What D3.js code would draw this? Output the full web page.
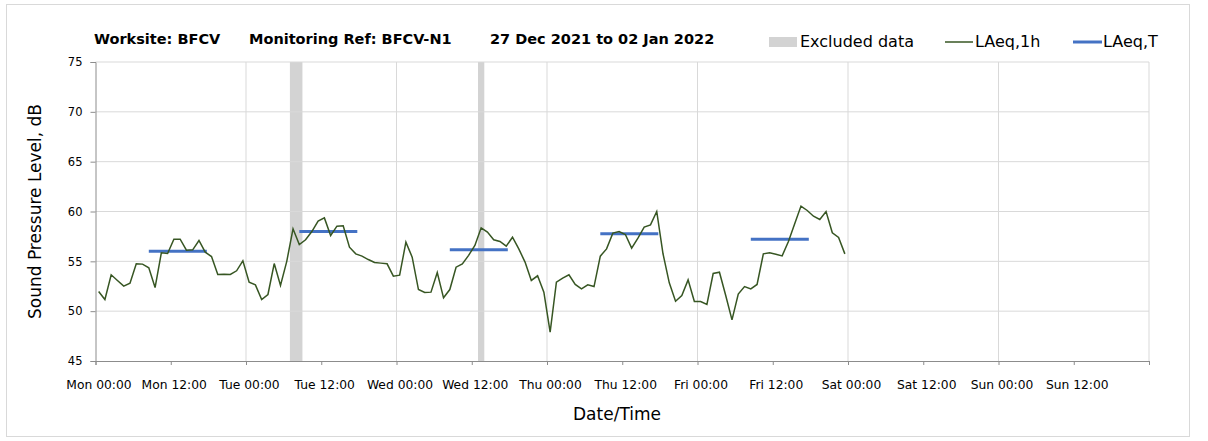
<!DOCTYPE html>
<meta charset="utf-8">
<style>
    body {
        margin: 0;
        background: #fff;
    }

    text {
        font-family: "DejaVu Sans", sans-serif;
        fill: #000;
    }

    .tick text {
        font-size: 12.3px;
    }

    .y .tick text {
        font-size: 11.5px;
    }

    .grid line {
        stroke: #d9d9d9;
        stroke-width: 1;
    }

    .axis path,
    .axis line {
        stroke: #8c8c8c;
    }

    .lineh {
        fill: none;
        stroke: #375623;
        stroke-width: 1.5px;
    }

    .linet {
        stroke: #4472c4;
        stroke-width: 3px;
    }

    .excl {
        fill: #d3d3d3;
    }
</style>
<svg width="1208" height="441"></svg>
<script src="https://cdn.jsdelivr.net/npm/d3@7"></script>
<script>

    // hourly LAeq,1h values, first one plotted at Mon 27 Dec 00:30
    var start = new Date(2021, 11, 27, 0, 30);
    var laeq1h = [
        51.97, 51.17, 53.65, 53.08, 52.51, 52.81, 54.75, 54.72, 54.35, 52.37,
        55.85, 55.79, 57.22, 57.22, 56.12, 56.15, 57.09, 55.92, 55.48, 53.68,
        53.71, 53.68, 54.05, 55.05, 52.91, 52.64, 51.17, 51.67, 54.78, 52.58,
        55.0, 58.26, 56.69, 57.16, 57.99, 59.03, 59.36, 57.59, 58.53, 58.56,
        56.42, 55.75, 55.52, 55.18, 54.88, 54.82, 54.75, 53.51, 53.61, 56.92,
        55.42, 52.17, 51.87, 51.91, 53.88, 51.34, 52.17, 54.41, 54.75, 55.6,
        56.59, 58.36, 57.93, 57.16, 56.99, 56.52, 57.42, 56.25, 54.92, 53.08,
        53.55, 51.91, 47.89, 52.91, 53.31, 53.65, 52.68, 52.24, 52.64, 52.47,
        55.52, 56.25, 57.83, 57.99, 57.69, 56.32, 57.32, 58.43, 58.66, 60.0,
        55.76, 52.84, 51.0, 51.57, 53.14, 50.97, 50.97, 50.67, 53.78, 53.91,
        51.57, 49.13, 51.71, 52.47, 52.24, 52.68, 55.75, 55.85, 55.72, 55.55,
        56.99, 58.76, 60.54, 60.1, 59.53, 59.2, 60.0, 57.86, 57.39, 55.75
    ];

    // LAeq,T daytime periods
    var periodStart = ["2021-12-27T08:30", "2021-12-28T08:30", "2021-12-29T08:30", "2021-12-30T08:30", "2021-12-31T08:30"];
    var periodEnd = ["2021-12-27T17:45", "2021-12-28T17:45", "2021-12-29T17:45", "2021-12-30T17:45", "2021-12-31T17:45"];
    var laeqT = [56.02, 57.99, 56.16, 57.76, 57.22];

    // excluded periods
    var exclStart = ["2021-12-28T07:00", "2021-12-29T13:00"];
    var exclEnd = ["2021-12-28T09:00", "2021-12-29T14:00"];

    var yTicks = [45, 50, 55, 60, 65, 70, 75];

    var svg = d3.select("svg"),
        margin = { top: 62, left: 95.5, right: 59, bottom: 80 },
        width = +svg.attr("width"),
        height = +svg.attr("height");

    var parse = d3.timeParse("%Y-%m-%dT%H:%M");
    var fmt = d3.timeFormat("%a %H:%M");

    var x = d3.scaleTime()
        .domain([new Date(2021, 11, 27), new Date(2022, 0, 3)])
        .range([margin.left, width - margin.right]);

    var y = d3.scaleLinear()
        .domain([45, 75])
        .range([height - margin.bottom, margin.top]);

    // chart frame
    svg.append("rect")
        .attr("x", 6.5).attr("y", 4.5)
        .attr("width", 1183).attr("height", 432)
        .attr("fill", "#fff")
        .attr("stroke", "#d9d9d9");

    // excluded bands
    svg.selectAll(".excl")
        .data(exclStart)
        .enter().append("rect")
        .attr("class", "excl")
        .attr("x", function (d) { return x(parse(d)); })
        .attr("width", function (d, i) { return x(parse(exclEnd[i])) - x(parse(d)); })
        .attr("y", y(75))
        .attr("height", y(45) - y(75));

    // gridlines
    svg.append("g")
        .attr("class", "grid")
        .selectAll("line")
        .data(yTicks.slice(1))
        .enter().append("line")
        .attr("x1", x.range()[0]).attr("x2", x.range()[1])
        .attr("y1", function (d) { return y(d); })
        .attr("y2", function (d) { return y(d); });

    svg.append("g")
        .attr("class", "grid")
        .selectAll("line")
        .data(d3.timeDay.range(new Date(2021, 11, 28), new Date(2022, 0, 4)))
        .enter().append("line")
        .attr("x1", function (d) { return x(d); }).attr("x2", function (d) { return x(d); })
        .attr("y1", y(75)).attr("y2", y(45));

    // axes
    var xAxis = svg.append("g")
        .attr("class", "axis x")
        .attr("transform", "translate(0," + y(45) + ")")
        .call(d3.axisBottom(x)
            .ticks(d3.timeHour.every(12))
            .tickSize(4)
            .tickPadding(15)
            .tickFormat(fmt));
    xAxis.selectAll(".tick text")
        .attr("dx", 3)
        .text(function (d) { return +d < +x.domain()[1] ? fmt(d) : ""; });

    svg.append("g")
        .attr("class", "axis y")
        .attr("transform", "translate(" + margin.left + ",0)")
        .call(d3.axisLeft(y).tickValues(yTicks).tickSize(5).tickPadding(8));

    // LAeq,T
    svg.selectAll(".linet")
        .data(laeqT)
        .enter().append("line")
        .attr("class", "linet")
        .attr("x1", function (d, i) { return x(parse(periodStart[i])); })
        .attr("x2", function (d, i) { return x(parse(periodEnd[i])); })
        .attr("y1", function (d) { return y(d); })
        .attr("y2", function (d) { return y(d); });

    // LAeq,1h
    var line = d3.line()
        .x(function (d, i) { return x(d3.timeHour.offset(start, i)); })
        .y(function (d) { return y(d); });

    svg.append("path")
        .datum(laeq1h)
        .attr("class", "lineh")
        .attr("d", line);

    // axis titles
    svg.append("text")
        .attr("transform", "translate(41," + y(60) + ") rotate(-90)")
        .attr("text-anchor", "middle")
        .style("font-size", "17px")
        .text("Sound Pressure Level, dB");

    svg.append("text")
        .attr("x", 617).attr("y", 420)
        .attr("text-anchor", "middle")
        .style("font-size", "17px")
        .text("Date/Time");

    // title
    var title = svg.append("text")
        .attr("x", 94).attr("y", 44)
        .style("font-size", "14.5px")
        .style("font-weight", "bold");
    title.append("tspan").text("Worksite: BFCV");
    title.append("tspan").attr("x", 249).text("Monitoring Ref: BFCV-N1");
    title.append("tspan").attr("x", 490).text("27 Dec 2021 to 02 Jan 2022");

    // legend
    var legend = svg.append("g").style("font-size", "16px");
    legend.append("rect")
        .attr("class", "excl")
        .attr("x", 769).attr("y", 37).attr("width", 28).attr("height", 10);
    legend.append("text").attr("x", 800).attr("y", 47).text("Excluded data");
    legend.append("line")
        .attr("class", "lineh")
        .attr("x1", 945).attr("x2", 973).attr("y1", 42).attr("y2", 42);
    legend.append("text").attr("x", 975).attr("y", 47).text("LAeq,1h");
    legend.append("line")
        .attr("class", "linet")
        .attr("x1", 1073).attr("x2", 1102).attr("y1", 42).attr("y2", 42);
    legend.append("text").attr("x", 1103).attr("y", 47).text("LAeq,T");

</script>
